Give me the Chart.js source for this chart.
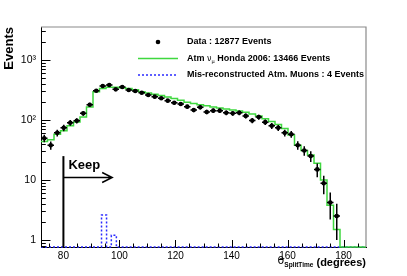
<!DOCTYPE html>
<html>
<head>
<meta charset="utf-8">
<script src="https://cdn.jsdelivr.net/npm/chart.js@4.4.0/dist/chart.umd.min.js"></script>
<style>
  html, body { margin: 0; padding: 0; background: #fff; }
</style>
</head>
<body>
<canvas id="myChart" width="407" height="276"></canvas>
<script>
// histogram binning (degrees)
const thetaMin = 72, thetaMax = 188, nBins = 50
const yMin = 0.764, yMax = 3548

// data (black points) and their errors
const dataCounts = [49.5, 38, 61, 74, 90, 97, 129, 180, 308, 369, 383, 324, 355, 316, 304, 285, 261, 245, 230, 210,
    194, 185, 167, 147, 163, 136, 143, 143, 132, 129, 132, 117, 98, 112, 92, 80, 74, 61, 58, 38,
    31, 25, 15, 8.8, 4.2, 2.5, null, null, null, null]
const dataErrors = [7, 6, 8, 9, 9.5, 10, 11, 13, 18, 19, 20, 18, 19, 18, 17, 17, 16, 16, 15, 14.5,
    14, 13.6, 13, 12, 12.8, 11.7, 12, 12, 11.5, 11.4, 11.5, 10.8, 9.9, 10.6, 9.6, 9, 8.6, 7.8, 7.6, 6.2,
    5.6, 5, 3.9, 3, 2, 1.5, 0, 0, 0, 0]

// atm. neutrino MC (green)
const mcCounts = [44, 47, 58, 66, 80, 93, 112, 165, 295, 335, 350, 352, 345, 335, 320, 296, 283, 268, 255, 242,
    228, 213, 198, 188, 180, 172, 165, 159, 153, 147, 141, 135, 126, 117, 105, 94, 84, 72, 56, 38,
    31, 26, 19, 10, 3.8, 1.5, 0, 0, 0, 0]

// mis-reconstructed atm. muons (blue dashed)
const muonEdges = [72, 93.6, 95.4, 97.1, 98.9, 188]
const muonCounts = [0, 2.6, 0, 1.2, 0]

// axes
const xMajorTicks = [80, 100, 120, 140, 160, 180]
const yMajorTicks = [1, 10, 100, 1000]
const yTickLabels = ['1', '10', '10\u00b2', '10\u00b3']

// cut annotation
const cutTheta = 80, cutTop = 25, arrowY = 11, arrowEnd = 97.4, keepY = 15

const binWidth = (thetaMax - thetaMin) / nBins
const binEdges = Array.from({length: nBins + 1}, (_, i) => thetaMin + i * binWidth)

function steps(edges, counts) {
    const pts = []
    counts.forEach((c, i) => {
        const y = c > 0 ? c : yMin
        pts.push({x: edges[i], y: y}, {x: edges[i + 1], y: y})
    })
    return pts
}

const dataPoints = []
dataCounts.forEach((c, i) => {
    if (c) dataPoints.push({x: (binEdges[i] + binEdges[i + 1]) / 2, y: c, err: dataErrors[i]})
})

Chart.defaults.font.family = 'Liberation Sans'

const errorBars = {
    id: 'errorBars',
    beforeDatasetDraw(chart, args) {
        if (args.index !== 0) return
        const ctx = chart.ctx, xs = chart.scales.x, ys = chart.scales.y
        ctx.save()
        ctx.strokeStyle = '#000'
        ctx.lineWidth = 1.5
        dataPoints.forEach(p => {
            const px = xs.getPixelForValue(p.x)
            const py = ys.getPixelForValue(p.y)
            const lo = ys.getPixelForValue(Math.max(p.y - p.err, yMin))
            const hi = ys.getPixelForValue(p.y + p.err)
            ctx.beginPath()
            ctx.moveTo(xs.getPixelForValue(p.x - binWidth / 2), py)
            ctx.lineTo(xs.getPixelForValue(p.x + binWidth / 2), py)
            ctx.moveTo(px, lo)
            ctx.lineTo(px, hi)
            ctx.stroke()
        })
        ctx.restore()
    }
}

const decorations = {
    id: 'decorations',
    afterDraw(chart) {
        const ctx = chart.ctx, xs = chart.scales.x, ys = chart.scales.y
        const a = chart.chartArea
        ctx.save()
        // frame top / right
        ctx.strokeStyle = '#8a8a8a'
        ctx.lineWidth = 1.2
        ctx.beginPath()
        ctx.moveTo(a.left, a.top); ctx.lineTo(a.right, a.top); ctx.lineTo(a.right, a.bottom)
        ctx.stroke()

        // inward ticks
        ctx.strokeStyle = '#000'
        ctx.lineWidth = 1
        ctx.beginPath()
        for (let v = 75; v <= 185; v += 5) {
            const px = Math.round(xs.getPixelForValue(v)) + 0.5
            const len = xMajorTicks.includes(v) ? 7 : 3.5
            ctx.moveTo(px, a.bottom); ctx.lineTo(px, a.bottom - len)
        }
        for (let k = -1; k <= 3; k++) {
            for (let d = 1; d <= 9; d++) {
                const v = d * Math.pow(10, k)
                if (v < yMin || v > yMax) continue
                const py = Math.round(ys.getPixelForValue(v)) + 0.5
                const len = d === 1 ? 9.5 : 4.8
                ctx.moveTo(a.left, py); ctx.lineTo(a.left + len, py)
            }
        }
        ctx.stroke()

        // cut line, arrow and "Keep"
        const cx = xs.getPixelForValue(cutTheta)
        ctx.lineWidth = 2
        ctx.beginPath()
        ctx.moveTo(cx, a.bottom); ctx.lineTo(cx, ys.getPixelForValue(cutTop))
        ctx.stroke()
        const ay = ys.getPixelForValue(arrowY), ax = xs.getPixelForValue(arrowEnd)
        ctx.lineWidth = 1.5
        ctx.beginPath()
        ctx.moveTo(cx, ay); ctx.lineTo(ax, ay)
        ctx.moveTo(ax - 10, ay - 5); ctx.lineTo(ax, ay); ctx.lineTo(ax - 10, ay + 5)
        ctx.stroke()
        ctx.fillStyle = '#000'
        ctx.font = 'bold 13px "Liberation Sans"'
        ctx.textBaseline = 'alphabetic'
        ctx.fillText('Keep', cx + 5, ys.getPixelForValue(keepY))

        // y title
        ctx.save()
        ctx.translate(9, a.top)
        ctx.rotate(-Math.PI / 2)
        ctx.textAlign = 'right'
        ctx.textBaseline = 'middle'
        ctx.font = 'bold 13px "Liberation Sans"'
        ctx.fillText('Events', 0, 0)
        ctx.restore()

        // x title
        ctx.textBaseline = 'alphabetic'
        const f1 = '11px "DejaVu Sans"', f2 = 'bold 6.5px "Liberation Sans"', f3 = 'bold 11px "Liberation Sans"'
        ctx.font = f1; const w1 = ctx.measureText('\u03b8').width
        ctx.font = f2; const w2 = ctx.measureText('SplitTime').width
        ctx.font = f3; const w3 = ctx.measureText(' (degrees)').width
        let tx = a.right - (w1 + w2 + w3)
        const ty = 266
        ctx.font = f1; ctx.fillText('\u03b8', tx, ty - 2); tx += w1
        ctx.font = f2; ctx.fillText('SplitTime', tx, ty + 1); tx += w2
        ctx.font = f3; ctx.fillText(' (degrees)', tx, ty)

        // legend
        const lx0 = 138, lx1 = 178, tx0 = 187
        ctx.font = 'bold 9px "Liberation Sans"'
        ctx.textBaseline = 'middle'
        ctx.beginPath()
        ctx.arc(158, 42, 2.3, 0, Math.PI * 2)
        ctx.fill()
        ctx.fillText('Data : 12877 Events', tx0, 42)

        ctx.strokeStyle = chart.data.datasets[1].borderColor
        ctx.lineWidth = 1.5
        ctx.beginPath(); ctx.moveTo(lx0, 58.5); ctx.lineTo(lx1, 58.5); ctx.stroke()
        let x = tx0
        ctx.fillText('Atm ', x, 58.5); x += ctx.measureText('Atm ').width
        ctx.font = '8px "DejaVu Sans"'
        ctx.fillText('\u03bd', x, 58.5); x += ctx.measureText('\u03bd').width
        ctx.font = '5px "DejaVu Sans"'
        ctx.fillText('\u03bc', x, 61.5); x += ctx.measureText('\u03bc').width
        ctx.font = 'bold 9px "Liberation Sans"'
        ctx.fillText(' Honda 2006: 13466 Events', x, 58.5)

        ctx.strokeStyle = chart.data.datasets[2].borderColor
        ctx.setLineDash([2, 2])
        ctx.beginPath(); ctx.moveTo(lx0, 75); ctx.lineTo(lx1, 75); ctx.stroke()
        ctx.setLineDash([])
        ctx.fillText('Mis-reconstructed Atm. Muons : 4 Events', tx0, 75)
        ctx.restore()
    }
}

new Chart(document.getElementById('myChart').getContext('2d'), {
    data: {
        datasets: [
            {
                type: 'scatter',
                data: dataPoints,
                backgroundColor: '#000',
                borderColor: '#000',
                borderWidth: 0,
                pointRadius: 2.3,
                order: 0
            },
            {
                type: 'line',
                data: steps(binEdges, mcCounts),
                borderColor: '#3fd83f',
                borderWidth: 1.5,
                pointRadius: 0,
                fill: false,
                tension: 0,
                clip: 3,
                order: 1
            },
            {
                type: 'line',
                data: steps(muonEdges, muonCounts),
                borderColor: '#2a2aff',
                borderWidth: 1.5,
                borderDash: [2, 2],
                pointRadius: 0,
                fill: false,
                tension: 0,
                clip: 3,
                order: 2
            }
        ]
    },
    options: {
        responsive: false,
        animation: false,
        devicePixelRatio: 1,
        layout: { padding: { top: 27, right: 41, left: 0, bottom: 0 } },
        plugins: { legend: { display: false }, tooltip: { enabled: false } },
        scales: {
            x: {
                type: 'linear',
                min: thetaMin,
                max: thetaMax,
                grid: { display: false, drawTicks: false },
                border: { display: true, color: '#000', width: 1 },
                ticks: { color: '#000', font: { size: 10 }, padding: 3, maxRotation: 0, autoSkip: false },
                afterBuildTicks: s => { s.ticks = xMajorTicks.map(v => ({ value: v })) },
                afterFit: s => { s.height = 29 }
            },
            y: {
                type: 'logarithmic',
                min: yMin,
                max: yMax,
                grid: { display: false, drawTicks: false },
                border: { display: true, color: '#000', width: 1 },
                ticks: {
                    color: '#000', font: { size: 10.5 }, padding: 5, autoSkip: false,
                    callback: v => yTickLabels[yMajorTicks.indexOf(v)]
                },
                afterBuildTicks: s => { s.ticks = yMajorTicks.map(v => ({ value: v })) },
                afterFit: s => { s.width = 41 }
            }
        }
    },
    plugins: [errorBars, decorations]
})
</script>
</body>
</html>
